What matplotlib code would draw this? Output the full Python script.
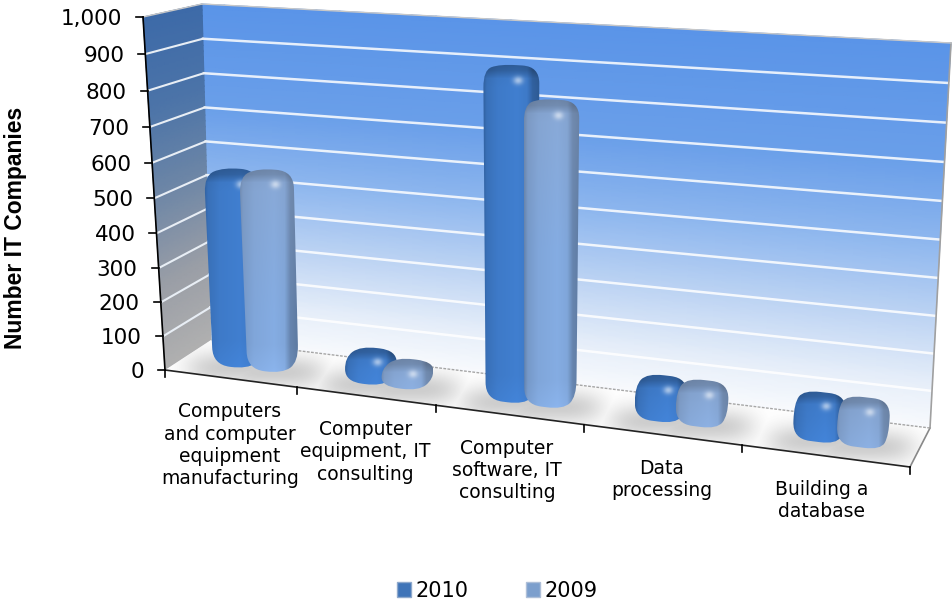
import numpy as np
import matplotlib
matplotlib.use("Agg")
import matplotlib.pyplot as plt
from matplotlib.colors import LinearSegmentedColormap
from matplotlib.path import Path
from matplotlib.patches import PathPatch, Patch, Polygon
from matplotlib.transforms import Transform

categories = ["Computers\nand computer\nequipment\nmanufacturing",
              "Computer\nequipment, IT\nconsulting",
              "Computer\nsoftware, IT\nconsulting",
              "Data\nprocessing",
              "Building a\ndatabase"]
values_2010 = [552, 70, 895, 90, 95]
values_2009 = [558, 50, 810, 90, 95]
value_ticks = [0, 100, 200, 300, 400, 500, 600, 700, 800, 900, 1000]
tick_labels = ["0", "100", "200", "300", "400", "500", "600", "700", "800", "900", "1,000"]
series_names = ["2010", "2009"]
VMAX = 1000.0
NCAT = len(categories)
LABEL_DX = [0, 0, -2, 0, -3]


def homography(src, dst):
    A, b = [], []
    for (x, y), (u, v) in zip(src, dst):
        A.append([x, y, 1, 0, 0, 0, -u * x, -u * y]); b.append(u)
        A.append([0, 0, 0, x, y, 1, -v * x, -v * y]); b.append(v)
    return np.append(np.linalg.solve(np.array(A, float), np.array(b, float)), 1).reshape(3, 3)


SRC = [(0, 0), (NCAT, 0), (NCAT, VMAX), (0, VMAX)]
H_FRONT = homography(SRC, [(165, 370), (910, 467), (933, 58), (143, 17)])
H_BACK = homography(SRC, [(211, 340), (930, 428), (951, 43), (202, 4)])


class Wall(Transform):
    """Category/value coordinates at a depth z (0 front, 1 back) to figure pixels."""
    input_dims = output_dims = 2
    is_separable = False

    def __init__(self, z=0.0):
        super().__init__()
        self.z = z

    def transform_non_affine(self, pts):
        pts = np.asarray(pts, float)
        h = np.c_[pts, np.ones(len(pts))]
        f = h @ H_FRONT.T
        b = h @ H_BACK.T
        f = f[:, :2] / f[:, 2:]
        b = b[:, :2] / b[:, 2:]
        return f * (1 - self.z) + b * self.z


FRONT, BACK = Wall(0.0), Wall(1.0)

fig = plt.figure(figsize=(9.52, 6.06), dpi=100)
ax = fig.add_axes([0, 0, 1, 1])
ax.set_xlim(0, 952)
ax.set_ylim(606, 0)
ax.axis("off")

# back wall and side wall as gradient meshes
back_cmap = LinearSegmentedColormap.from_list("b", [(0, "#f8fafd"), (.12, "#e6eef9"), (.3, "#bcd3f3"),
                                                    (.5, "#8db6ee"), (.7, "#6a9fe9"), (1, "#5a94e8")])
side_cmap = LinearSegmentedColormap.from_list("s", [(0, "#b0b0b0"), (.25, "#9a9ea6"), (.5, "#6f87a6"),
                                                    (.75, "#4c74a8"), (1, "#3d6aa8")])
cc, vv = np.meshgrid(np.linspace(0, NCAT, 30), np.linspace(0, VMAX, 60))
P = BACK.transform(np.c_[cc.ravel(), vv.ravel()])
ax.pcolormesh(P[:, 0].reshape(cc.shape), P[:, 1].reshape(cc.shape), vv, cmap=back_cmap,
              shading="gouraud", vmin=0, vmax=VMAX, zorder=1)
zz, vv2 = np.meshgrid(np.linspace(0, 1, 10), np.linspace(0, VMAX, 60))
X = np.zeros_like(zz); Y = np.zeros_like(zz)
for j in range(zz.shape[1]):
    p = Wall(zz[0, j]).transform(np.c_[np.zeros(60), vv2[:, j]])
    X[:, j], Y[:, j] = p[:, 0], p[:, 1]
ax.pcolormesh(X, Y, vv2, cmap=side_cmap, shading="gouraud", vmin=0, vmax=VMAX, zorder=1)

# gridlines
for v in value_ticks[1:-1]:
    a = np.c_[np.linspace(0, NCAT, 30), np.full(30, v)]
    pa = BACK.transform(a)
    ax.plot(pa[:, 0], pa[:, 1], color="white", lw=1.8, alpha=.85, zorder=2)
    s = np.array([FRONT.transform([[0, v]])[0], BACK.transform([[0, v]])[0]])
    ax.plot(s[:, 0], s[:, 1], color="#e8eef5", lw=1.5, zorder=2)

# floor
corners = np.array([FRONT.transform([[0, 0]])[0], FRONT.transform([[NCAT, 0]])[0],
                    BACK.transform([[NCAT, 0]])[0], BACK.transform([[0, 0]])[0]])
floor = Polygon(corners, closed=True, fc="white", ec="none", zorder=3)
ax.add_patch(floor)
ax.plot(corners[2:, 0], corners[2:, 1], color="#a8a8a8", lw=1, ls=(0, (2, 1)), zorder=3.1)
ax.plot(corners[1:3, 0], corners[1:3, 1], color="#8a8a8a", lw=1.2, zorder=3.1)
edge = BACK.transform([[NCAT, 0], [NCAT, VMAX]])
ax.plot(edge[:, 0], edge[:, 1], color="#a0a0a0", lw=1.2, zorder=3.1)
top = BACK.transform([[0, VMAX], [NCAT, VMAX]])
ax.plot(top[:, 0], top[:, 1], color="#c8c8c8", lw=1, zorder=3.1)
top2 = np.array([FRONT.transform([[0, VMAX]])[0], BACK.transform([[0, VMAX]])[0]])
ax.plot(top2[:, 0], top2[:, 1], color="#c8c8c8", lw=1, zorder=3.1)

# bars
PAD = 0.26
BAR_W = 0.265
Z0, Z1 = 0.32, 0.69
SERIES = [(values_2010, (62, 122, 200), 0), (values_2009, (128, 166, 218), 1)]


def bar_hull(c0, c1, v):
    pts = []
    for z in (Z0, Z1):
        pts.append(Wall(z).transform([[c0, 0], [c1, 0], [c1, v], [c0, v]]))
    pts = np.vstack(pts)
    o = pts[np.lexsort((pts[:, 1], pts[:, 0]))]

    def half(seq):
        out = []
        for p in seq:
            while len(out) > 1:
                e0, e1 = out[-1] - out[-2], p - out[-1]
                if e0[0] * e1[1] - e0[1] * e1[0] <= 0:
                    out.pop()
                else:
                    break
            out.append(p)
        return out[:-1]
    return np.array(half(o) + half(o[::-1]))


def rounded(poly, r):
    verts, codes = [], []
    n = len(poly)
    for i in range(n):
        p0, p1, p2 = poly[i - 1], poly[i], poly[(i + 1) % n]
        d0, d2 = p0 - p1, p2 - p1
        l0, l2 = np.hypot(*d0), np.hypot(*d2)
        a = p1 + d0 / l0 * min(r, l0 * .5)
        b = p1 + d2 / l2 * min(r, l2 * .5)
        verts += [a, p1, b]
        codes += [Path.LINETO if i else Path.MOVETO, Path.CURVE3, Path.CURVE3]
    verts.append(verts[0]); codes.append(Path.CLOSEPOLY)
    return Path(verts, codes)


bars = []
for vals, col, k in SERIES:
    for i, v in enumerate(vals):
        c0 = i + PAD + k * BAR_W
        bars.append((c0, c0 + BAR_W, v, np.array(col, float), k))

# floor shadows
gx, gy = np.meshgrid(np.arange(952), np.arange(606))
dark = np.zeros_like(gx, float)
for c0, c1, v, col, k in bars:
    bx, by = Wall(.5).transform([[(c0 + c1) / 2, 0]])[0]
    dark = np.maximum(dark, .30 * np.exp(-((gx - bx) / 52.0) ** 4 - ((gy - by - 6) / 17.0) ** 2))
rgba = np.zeros(gx.shape + (4,))
rgba[..., :3] = .35
rgba[..., 3] = dark
im = ax.imshow(rgba, extent=(0, 952, 606, 0), aspect="auto", zorder=3.2, interpolation="bilinear")
im.set_clip_path(floor)

for z_order, (c0, c1, v, col, k) in enumerate(sorted(bars, key=lambda b: (b[0]))):
    hull = bar_hull(c0, c1, v)
    path = rounded(hull, 17)
    patch = PathPatch(path, fc="none", ec="none", zorder=4 + z_order * .01)
    ax.add_patch(patch)
    x0, y0 = hull.min(0)
    x1, y1 = hull.max(0)
    nx, ny = int(x1 - x0) + 2, int(y1 - y0) + 2
    ux, ty = np.meshgrid(np.linspace(0, 1, nx), np.arange(ny, dtype=float))
    prof = np.interp(ux, [0, .06, .25, .6, .78, .88, 1], [.80, .92, 1, 1.04, 1.0, .80, .74])
    topf = np.interp(ty, [0, 7, 15, 24], [.72, .78, .98, 1.0])
    botf = np.interp(ny - ty, [0, 6, 30], [1.06, 1.04, 1.0])
    shade = (prof * topf * botf)[..., None]
    img = col[None, None, :] * shade
    if k == 1:
        tall = np.clip(1 - ty / 150, 0, 1)[..., None]
        img = img * (1 - .25 * tall) + np.array([150, 160, 180.])[None, None, :] * .25 * tall
    hl = .55 * np.exp(-(((ux - .62) * nx) / 5.0) ** 2 - ((ty - 17) / 4.0) ** 2)[..., None]
    img = img * (1 - hl) + 255 * hl
    g = ax.imshow(np.clip(img, 0, 255).astype(np.uint8), extent=(x0, x1, y1, y0), aspect="auto",
                  zorder=4 + z_order * .01, interpolation="bilinear")
    g.set_clip_path(patch)

ax.set_xlim(0, 952)
ax.set_ylim(606, 0)

# axes lines and ticks
axis_y = FRONT.transform([[0, 0], [0, VMAX]])
ax.plot(axis_y[:, 0], axis_y[:, 1], color="black", lw=1.2, zorder=6)
xs = FRONT.transform(np.c_[np.linspace(0, NCAT, 30), np.zeros(30)])
ax.plot(xs[:, 0], xs[:, 1], color="#222222", lw=1.2, zorder=6)
for v, lab in zip(value_ticks, tick_labels):
    px, py = FRONT.transform([[0, v]])[0]
    ax.plot([px - 7, px], [py, py], color="black", lw=1.2, zorder=6)
    ax.text(px - 21, py + 2, lab, ha="right", va="center", fontsize=15.5, color="black")
for i in range(NCAT + 1):
    px, py = FRONT.transform([[i, 0]])[0]
    ax.plot([px, px], [py, py + 7], color="black", lw=1.2, zorder=6)
for i, lab in enumerate(categories):
    px, py = FRONT.transform([[i + .5, 0]])[0]
    ax.text(px + LABEL_DX[i], py + 24, lab, ha="center", va="top", fontsize=13.5, color="black", linespacing=1.22)

ax.text(16, 228, "Number IT Companies", rotation=90, ha="center", va="center",
        fontsize=16.5, fontweight="bold", family="Liberation Sans", color="black")

handles = [Patch(fc="#3f74b8", ec="#8fa9cc", label=series_names[0]),
           Patch(fc="#7c9fcd", ec="#aebfd8", label=series_names[1])]
ax.legend(handles=handles, loc="center", bbox_to_anchor=(497 / 952, 1 - 591 / 606), ncol=2, frameon=False,
          fontsize=15, handlelength=.7, handleheight=.7, handletextpad=.2, columnspacing=2.75,
          borderaxespad=0, borderpad=0)

fig.savefig("out.png", dpi=100)
